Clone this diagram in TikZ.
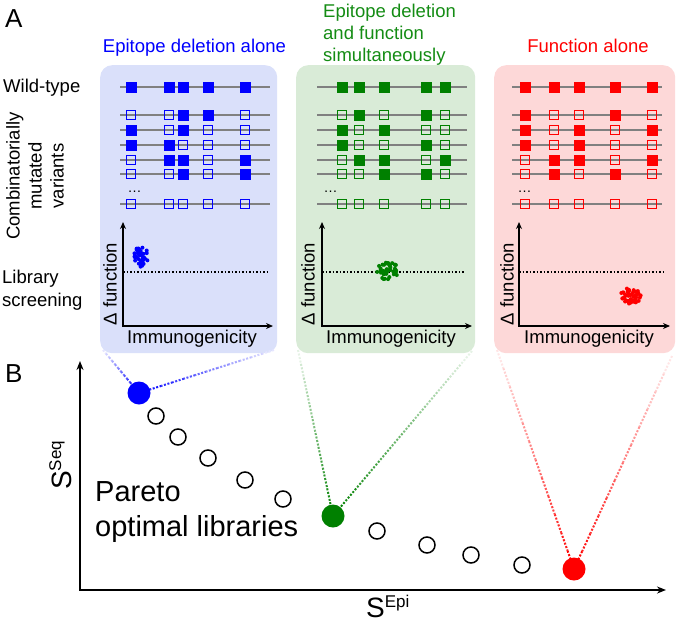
\documentclass[tikz,border=0pt]{standalone}
\usepackage{fontspec}
\setmainfont{Liberation Sans}
\usetikzlibrary{arrows.meta,calc}
\definecolor{cB}{RGB}{0,0,255}
\definecolor{cG}{RGB}{0,128,0}
\definecolor{cR}{RGB}{255,0,0}
\definecolor{tG}{RGB}{20,140,20}
\definecolor{pB}{RGB}{218,224,250}
\definecolor{pG}{RGB}{217,235,215}
\definecolor{pR}{RGB}{253,216,216}
\definecolor{seqgray}{RGB}{128,128,128}
\newcommand\drawsq[4]{%
  \if#4F\fill[#1] (#2-5.5,#3-5.5) rectangle (#2+5.5,#3+5.5);%
  \else\draw[#1, line width=1.8pt] (#2-4.5,#3-4.5) rectangle (#2+4.5,#3+4.5);\fi}
\newcommand\fadedots[3]{%
  \foreach \k in {0,...,11}{%
    \pgfmathsetmacro\ta{\k/12}\pgfmathsetmacro\tb{(\k+1)/12}%
    \pgfmathtruncatemacro\sh{10+\k*8}%
    \draw[fadedot, draw=#1!\sh] ($(#2)!\ta!(#3)$) -- ($(#2)!\tb!(#3)$);}}
\newcommand\cluster[6]{% color, cx, cy, a, b, seed
  \pgfmathsetseed{#6}%
  \foreach \k in {1,...,45}{%
    \pgfmathsetmacro\rr{sqrt(rnd)}\pgfmathsetmacro\aa{360*rnd}%
    \fill[#1] ({#2+#4*\rr*cos(\aa)},{#3+#5*\rr*sin(\aa)}) circle (2);}}
\begin{document}
\begin{tikzpicture}[x=1pt,y=-1pt,
  panel/.style={rounded corners=12pt, inner sep=0, draw=none, anchor=north west, minimum height=288pt},
  lbl/.style={font=\fontsize{18.5}{22}\selectfont, inner sep=0},
  seqline/.style={seqgray, line width=1.8pt},
  axis/.style={line width=1.8pt, -{Stealth[length=7pt,width=6pt]}},
  thresh/.style={line width=1.6pt, dash pattern=on 1.6pt off 1.9pt},
  fadedot/.style={line width=2pt, dash pattern=on 2pt off 1.6pt},
  bigdot/.style={circle, minimum size=23pt, inner sep=0, draw=none},
  odot/.style={circle, minimum size=16pt, inner sep=0, draw=black, line width=1.5pt, fill=white},
  big/.style={font=\fontsize{26}{30}\selectfont, inner sep=0}]
\useasboundingbox (0,0) rectangle (677,624);

% ---------- panel backgrounds ----------
\node[panel, fill=pB, minimum width=177pt] (panB) at (100,65) {};
\node[panel, fill=pG, minimum width=179pt] (panG) at (296,65) {};
\node[panel, fill=pR, minimum width=181pt] (panR) at (494,65) {};

% ---------- labels ----------
\node[big, anchor=base west] (labA) at (5,27) {A};
\node[big, anchor=base west] (labB) at (5,382) {B};
\node[lbl, anchor=base west] (wt) at (3,92) {Wild-type};
\node[lbl, rotate=90, align=center] (comb) at (35,176) {Combinatorially\\mutated\\variants};
\node[lbl, anchor=north west, align=left, font=\fontsize{18.5}{23}\selectfont] (libs) at (2,269.5) {Library\\screening};

\node[lbl, anchor=base, text=cB] (tB) at (194.5,52) {Epitope deletion alone};
\node[lbl, anchor=north west, align=left, text=tG, font=\fontsize{18.5}{21.8}\selectfont] (tG) at (323,4) {Epitope deletion\\and function\\simultaneously};
\node[lbl, anchor=base, text=cR] (tR) at (588,52) {Function alone};

% ---------- sequence rows ----------
\foreach \y in {87,115,130,145,160,174,204}{
  \draw[seqline] (120,\y) -- (270,\y);
  \draw[seqline] (317,\y) -- (467,\y);
  \draw[seqline] (512,\y) -- (662,\y);
}
\foreach \y/\qa/\qb/\qc/\qd/\qe in {87/F/F/F/F/F,115/O/O/F/F/O,130/F/O/F/O/O,145/F/F/O/O/O,160/O/F/F/O/F,174/O/O/F/O/F,204/O/O/O/O/O}{
  \drawsq{cB}{131}{\y}{\qa}\drawsq{cB}{169}{\y}{\qb}\drawsq{cB}{183}{\y}{\qc}\drawsq{cB}{208}{\y}{\qd}\drawsq{cB}{245}{\y}{\qe}}
\foreach \y/\qa/\qb/\qc/\qd/\qe in {87/F/F/F/F/F,115/O/F/O/F/O,130/F/O/F/O/O,145/F/O/O/F/O,160/O/F/F/O/F,174/O/O/F/F/O,204/O/O/O/O/O}{
  \drawsq{cG}{342}{\y}{\qa}\drawsq{cG}{359}{\y}{\qb}\drawsq{cG}{384}{\y}{\qc}\drawsq{cG}{426}{\y}{\qd}\drawsq{cG}{445}{\y}{\qe}}
\foreach \y/\qa/\qb/\qc/\qd/\qe in {87/F/F/F/F/F,115/F/O/O/F/O,130/F/O/F/O/F,145/F/O/F/O/O,160/O/F/F/O/F,174/O/F/O/F/O,204/O/O/O/O/O}{
  \drawsq{cR}{525}{\y}{\qa}\drawsq{cR}{554}{\y}{\qb}\drawsq{cR}{579}{\y}{\qc}\drawsq{cR}{615}{\y}{\qd}\drawsq{cR}{652}{\y}{\qe}}
\node[anchor=base, inner sep=0, font=\fontsize{14}{14}\selectfont] (elB) at (134.5,192) {…};
\node[anchor=base, inner sep=0, font=\fontsize{14}{14}\selectfont] (elG) at (330.5,192) {…};
\node[anchor=base, inner sep=0, font=\fontsize{14}{14}\selectfont] (elR) at (524.5,192) {…};

% ---------- screening plots ----------
\foreach \ox/\xe/\de/\fx/\ix/\nm in {123/273/267/110/192/B,322/472/465/308/391/G,519/670/663/507/589/R}{
  \coordinate (o\nm) at (\ox,326);
  \coordinate (yt\nm) at (\ox,222);
  \coordinate (xt\nm) at (\xe,326);
  \coordinate (d1\nm) at (\ox,272);
  \coordinate (d2\nm) at (\de,272);
  \draw[thresh] (d1\nm) -- (d2\nm);
  \draw[axis] (o\nm) -- (yt\nm);
  \draw[axis] ([xshift=-0.9pt]o\nm) -- (xt\nm);
  \node[lbl, rotate=90] (df\nm) at (\fx,284) {Δ function};
  \node[lbl, anchor=base] (im\nm) at (\ix,343) {Immunogenicity};
}
\cluster{cB}{141}{256}{7.5}{11}{11}
\cluster{cG}{388}{271}{11}{9.5}{23}
\cluster{cR}{631}{296}{11}{8}{5}

% ---------- panel B ----------
\coordinate (oo) at (80,590);
\coordinate (yy) at (80,361);
\coordinate (xx) at (666,590);
\draw[axis, -{Stealth[length=9pt,width=7pt]}] (oo) -- (yy);
\draw[axis, -{Stealth[length=9pt,width=7pt]}] ([xshift=-0.9pt]oo) -- (xx);
\node[inner sep=0, anchor=base west] (sepi) at (366,617) {\fontsize{28}{30}\selectfont S\raisebox{10pt}{\fontsize{17}{18}\selectfont Epi}};
\node[inner sep=0, anchor=base west, rotate=90] (sseq) at (71,490) {\fontsize{28}{30}\selectfont S\raisebox{10pt}{\fontsize{17}{18}\selectfont Seq}};
\node[anchor=north west, align=left, inner sep=0, font=\fontsize{29}{35}\selectfont] (pareto) at (95,481) {Pareto\\optimal libraries};

\coordinate (dBc) at (139,393);
\coordinate (dGc) at (333,516);
\coordinate (dRc) at (574,569);
\coordinate (cB1) at (103,350);
\coordinate (cB2) at (274,350);
\coordinate (cG1) at (298,350);
\coordinate (cG2) at (472,351);
\coordinate (cR1) at (497,350);
\coordinate (cR2) at (672,356);
\fadedots{cB}{cB1}{dBc}
\fadedots{cB}{cB2}{dBc}
\fadedots{cG}{cG1}{dGc}
\fadedots{cG}{cG2}{dGc}
\fadedots{cR}{cR1}{dRc}
\fadedots{cR}{cR2}{dRc}

\foreach \p [count=\i] in {(156,416),(178,437),(208,458),(245,480),(283,499),(377,531),(427,545),(471,555),(522,565)}
  \node[odot] (oc\i) at \p {};
\node[bigdot, fill=cB] (dB) at (dBc) {};
\node[bigdot, fill=cG] (dG) at (dGc) {};
\node[bigdot, fill=cR] (dR) at (dRc) {};
\end{tikzpicture}
\end{document}
